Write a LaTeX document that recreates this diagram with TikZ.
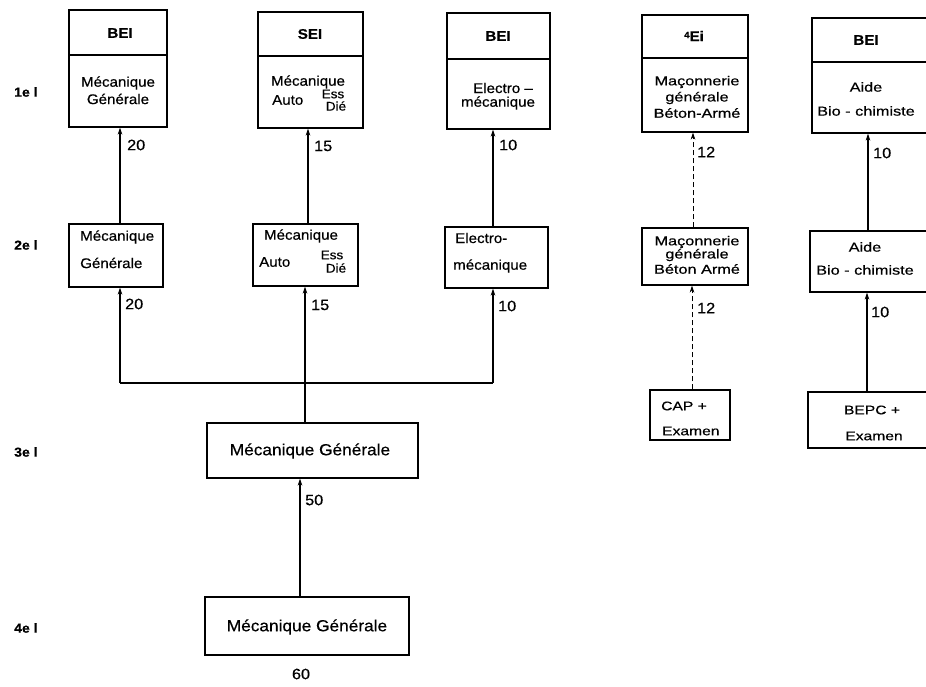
\documentclass[tikz,border=0pt]{standalone}
\usepackage{fontspec}
\setmainfont{Liberation Sans}[FakeStretch=1.08, FakeBold=0.5]
\newfontfamily\widefont{Liberation Sans}[FakeStretch=1.25, FakeBold=0.5]
\usetikzlibrary{arrows.meta}

\begin{document}
\begin{tikzpicture}[x=1pt,y=-1pt,
  box/.style={draw, line width=1.1pt, rectangle, inner sep=0pt},
  txt/.style={inner sep=0pt, font=\fontsize{14}{16}\selectfont},
  small/.style={inner sep=0pt, font=\fontsize{12.5}{14}\selectfont},
  wide/.style={inner sep=0pt, font=\widefont\fontsize{13}{15}\selectfont},
  big/.style={inner sep=0pt, font=\fontsize{16}{19}\selectfont},
  head/.style={inner sep=0pt, font=\fontsize{14}{16}\selectfont\bfseries},
  level/.style={inner sep=0pt, anchor=west, font=\fontsize{13}{15}\selectfont\bfseries},
  num/.style={inner sep=0pt, anchor=west, font=\fontsize{15}{17}\selectfont},
  link/.style={line width=1.1pt, -{Stealth[length=7pt,width=4.5pt]}},
  faint/.style={link, dashed, dash pattern=on 5pt off 3pt, line width=0.9pt},
  divider/.style={line width=1.1pt}]
\useasboundingbox (0,0) rectangle (926,687);
\clip (0,0) rectangle (926,687);

% ---- year labels
\node[level] (y1) at (14,92)  {1e l};
\node[level] (y2) at (14,245) {2e l};
\node[level] (y3) at (14,452) {3e l};
\node[level] (y4) at (14,628) {4e l};

% ---- final year boxes (header + specialty)
\node[box, minimum width=98,  minimum height=117] (b1) at (118,68.5) {};
\node[box, minimum width=105, minimum height=116] (b2) at (310.5,70) {};
\node[box, minimum width=103, minimum height=116] (b3) at (498.5,71) {};
\node[box, minimum width=106, minimum height=117] (b4) at (695,73.5) {};
\node[box, minimum width=148, minimum height=115] (b5) at (886,75.5) {};

\draw[divider] (b1.west |- 0,55) -- (b1.east |- 0,55);
\draw[divider] (b2.west |- 0,56) -- (b2.east |- 0,56);
\draw[divider] (b3.west |- 0,59) -- (b3.east |- 0,59);
\draw[divider] (b4.west |- 0,58) -- (b4.east |- 0,58);
\draw[divider] (b5.west |- 0,62) -- (b5.east |- 0,62);

\node[head] (h1) at (120,33) {BEI};
\node[head] (h2) at (310,34) {SEI};
\node[head] (h3) at (498,36) {BEI};
\node[head] (h4) at (694,36) {\raisebox{3pt}{\fontsize{9}{9}\selectfont 4}Ei};
\node[head] (h5) at (866,40) {BEI};

\node[txt] (t1a) at (118,83) {Mécanique};
\node[txt] (t1b) at (118,99) {Générale};
\node[txt] (t2a) at (308,82) {Mécanique};
\node[txt, anchor=west] (t2b) at (272,100) {Auto};
\node[small] (t2c) at (333,94) {Ess};
\node[small] (t2d) at (336,106) {Dié};
\node[txt] (t3a) at (503,88) {Electro --};
\node[txt] (t3b) at (498,103) {mécanique};
\node[wide] (t4a) at (697,82) {Maçonnerie};
\node[wide] (t4b) at (697,98) {générale};
\node[wide] (t4c) at (697,113) {Béton-Armé};
\node[wide] (t5a) at (866,87) {Aide};
\node[wide] (t5b) at (866,111) {Bio - chimiste};

% ---- second year boxes
\node[box, minimum width=94,  minimum height=63] (ra) at (116,255.5) {};
\node[box, minimum width=105, minimum height=62] (rb) at (305.5,255) {};
\node[box, minimum width=103, minimum height=61] (rc) at (496.5,257.5) {};
\node[box, minimum width=106, minimum height=57] (rd) at (695,256.5) {};
\node[box, minimum width=150, minimum height=61] (re) at (885,261.5) {};

\node[txt, anchor=west] (ua1) at (80,237) {Mécanique};
\node[txt, anchor=west] (ua2) at (80,263) {Générale};
\node[txt] (ub1) at (301,236) {Mécanique};
\node[txt, anchor=west] (ub2) at (259,262) {Auto};
\node[small] (ub3) at (332,255) {Ess};
\node[small] (ub4) at (336,268) {Dié};
\node[txt, anchor=west] (uc1) at (455,238) {Electro-};
\node[txt, anchor=west] (uc2) at (453,266) {mécanique};
\node[wide] (ud1) at (697,242) {Maçonnerie};
\node[wide] (ud2) at (697,255) {générale};
\node[wide] (ud3) at (697,269) {Béton Armé};
\node[wide] (ue1) at (865,247) {Aide};
\node[wide] (ue2) at (865,270) {Bio - chimiste};

% ---- entry boxes on the right
\node[box, minimum width=80,  minimum height=50] (cap) at (690,415) {};
\node[box, minimum width=152, minimum height=56] (bepc) at (884,420) {};
\node[wide, anchor=west, font=\widefont\fontsize{12.5}{15}\selectfont] (cap1) at (661,406) {CAP +};
\node[wide, anchor=west, font=\widefont\fontsize{12.5}{15}\selectfont] (cap2) at (662,431) {Examen};
\node[wide, font=\widefont\fontsize{12.5}{15}\selectfont] (bp1) at (872,410) {BEPC +};
\node[wide, font=\widefont\fontsize{12.5}{15}\selectfont] (bp2) at (874,436) {Examen};

% ---- common trunk boxes
\node[box, minimum width=211, minimum height=55] (m3) at (312.5,450.5) {};
\node[box, minimum width=204, minimum height=58] (m4) at (307,626) {};
\node[big] (m3t) at (310,451) {Mécanique Générale};
\node[big] (m4t) at (307,627) {Mécanique Générale};
\node[txt, font=\fontsize{15}{17}\selectfont] (n60) at (301,674) {60};

% ---- connectors 2e -> 1e
\coordinate (x1) at (120,0);
\coordinate (x2) at (308,0);
\coordinate (x3) at (493,0);
\coordinate (x4) at (693,0);
\coordinate (x5) at (868,0);
\draw[link]  (x1 |- ra.north) -- (x1 |- b1.south);
\draw[link]  (x2 |- rb.north) -- (x2 |- b2.south);
\draw[link]  (x3 |- rc.north) -- (x3 |- b3.south);
\draw[faint] (x4 |- rd.north) -- (x4 |- b4.south);
\draw[link]  (x5 |- re.north) -- (x5 |- b5.south);
\node[num] (l1) at (127,145) {20};
\node[num] (l2) at (314,146) {15};
\node[num] (l3) at (499,145) {10};
\node[num] (l4) at (697,152) {12};
\node[num] (l5) at (873,153) {10};

% ---- branching from the 3e year to the 2e year
\coordinate (jl) at (120,383);
\coordinate (jr) at (493,383);
\coordinate (xm) at (305,0);
\draw[line width=1.1pt] (jl) -- (jr);
\draw[link] (jl) -- (jl |- ra.south);
\draw[link] (jr) -- (jr |- rc.south);
\draw[link] (xm |- m3.north) -- (xm |- rb.south);
\node[num] (k1) at (125,304) {20};
\node[num] (k2) at (311,305) {15};
\node[num] (k3) at (498,306) {10};

% ---- entry routes on the right
\coordinate (xd) at (692,0);
\coordinate (xe) at (867,0);
\draw[faint] (cap.north -| xd) -- (xd |- rd.south);
\draw[link]  (bepc.north -| xe) -- (xe |- re.south);
\node[num] (k4) at (697,308) {12};
\node[num] (k5) at (871,312) {10};

% ---- 4e -> 3e
\coordinate (xb) at (300,0);
\draw[link] (xb |- m4.north) -- (xb |- m3.south);
\node[num] (k6) at (305,500) {50};
\end{tikzpicture}
\end{document}
